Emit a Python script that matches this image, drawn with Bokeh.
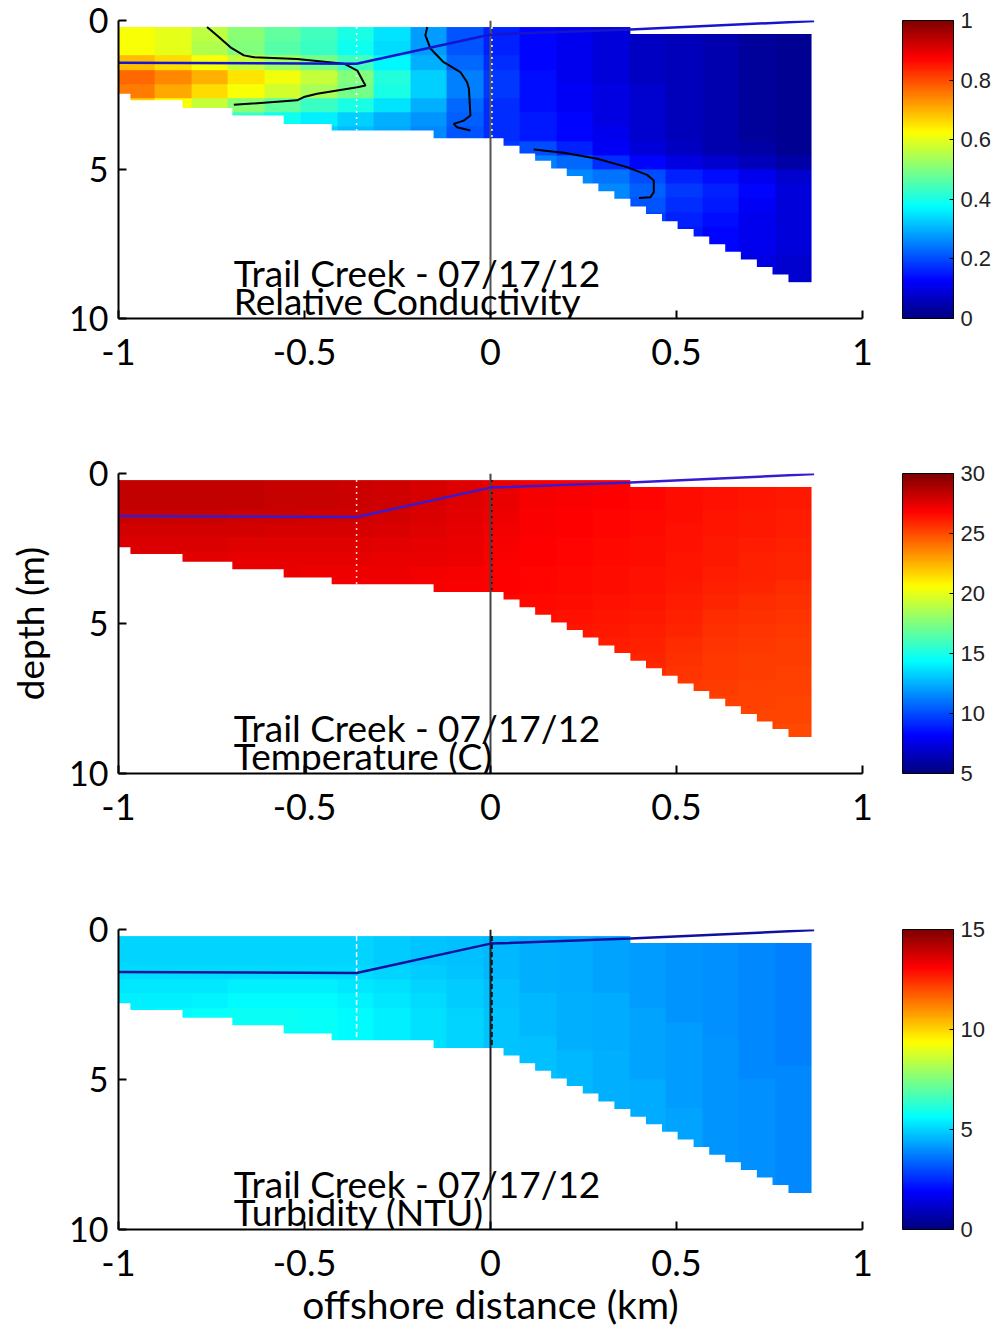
import numpy as np
from bokeh.plotting import figure
from bokeh.models import Range1d, LinearColorMapper, ColorBar, FixedTicker, Label
from bokeh.layouts import column
from bokeh.embed import file_html
from bokeh.resources import INLINE

# ---------------- data ----------------
x_ticks = [-1, -0.5, 0, 0.5, 1]
y_ticks = [0, 5, 10]

# grid of the section: 19 columns from -1 to 0.863 km, 18 rows from 0.22 to 8.8 m
grid_x0, grid_x1 = -1.0, 0.863
grid_z0, grid_z1 = 0.22, 8.8

# stair-step bottom of the data
bottom_edges = [-1.0, -0.968, -0.828, -0.694, -0.556, -0.427, -0.153, 0.0, 0.035,
                0.078, 0.12, 0.163, 0.205, 0.248, 0.29, 0.333, 0.376, 0.418, 0.461,
                0.503, 0.546, 0.588, 0.631, 0.673, 0.716, 0.758, 0.801, 0.863]
bottom_depth = [2.46, 2.68, 2.94, 3.19, 3.47, 3.69, 3.95, 3.95, 4.2, 4.46, 4.71, 4.97,
                5.22, 5.47, 5.73, 5.98, 6.24, 6.49, 6.74, 7.0, 7.25, 7.51, 7.76, 8.02,
                8.27, 8.52, 8.78]
# top of data: 0.22 m left of 0.376 km, 0.45 m right of it
top_gap_x = [0.376, 0.863]
top_gap_depth = [0.22, 0.45]

# blue interface line
blue_x = [-1.0, -0.36, 0.0, 0.376, 0.87]
blue_depth = [1.42, 1.45, 0.47, 0.30, 0.02]

# station markers
station_x = [-0.36, 0.004]
station_bottom = [3.69, 3.95]

# relative conductivity profiles (one list per column, top to bottom)
cond_profiles = [
    [0.62, 0.62, 0.69, 0.77, 0.75, 0.67],
    [0.60, 0.60, 0.66, 0.74, 0.71, 0.62],
    [0.56, 0.55, 0.62, 0.70, 0.66, 0.57],
    [0.51, 0.50, 0.57, 0.65, 0.62, 0.51, 0.43],
    [0.47, 0.46, 0.53, 0.61, 0.58, 0.47, 0.39],
    [0.44, 0.43, 0.49, 0.57, 0.54, 0.43, 0.36, 0.33],
    [0.40, 0.39, 0.44, 0.50, 0.49, 0.40, 0.33, 0.31],
    [0.35, 0.34, 0.37, 0.41, 0.40, 0.35, 0.30, 0.29],
    [0.28, 0.28, 0.30, 0.33, 0.33, 0.30, 0.27, 0.26],
    [0.21, 0.21, 0.23, 0.25, 0.25, 0.23, 0.22, 0.21],
    [0.16, 0.16, 0.17, 0.18, 0.18, 0.17, 0.17, 0.17, 0.18],
    [0.13, 0.13, 0.13, 0.14, 0.14, 0.14, 0.15, 0.15, 0.20, 0.25],
    [0.11, 0.11, 0.11, 0.11, 0.12, 0.12, 0.13, 0.13, 0.16, 0.23, 0.26, 0.26],
    [0.09, 0.09, 0.09, 0.09, 0.10, 0.10, 0.10, 0.11, 0.12, 0.17, 0.24, 0.26, 0.25],
    [0.07, 0.07, 0.07, 0.07, 0.08, 0.08, 0.08, 0.08, 0.09, 0.13, 0.20, 0.22, 0.21, 0.19],
    [0.06, 0.06, 0.06, 0.06, 0.06, 0.06, 0.06, 0.06, 0.07, 0.10, 0.16, 0.18, 0.17, 0.16, 0.15],
    [0.05, 0.05, 0.05, 0.05, 0.05, 0.05, 0.05, 0.05, 0.05, 0.08, 0.14, 0.16, 0.15, 0.14, 0.13, 0.13],
    [0.03, 0.03, 0.03, 0.03, 0.03, 0.03, 0.03, 0.03, 0.04, 0.06, 0.11, 0.13, 0.12, 0.11, 0.11, 0.11, 0.10, 0.10],
    [0.02, 0.02, 0.02, 0.02, 0.02, 0.02, 0.02, 0.02, 0.02, 0.04, 0.08, 0.09, 0.09, 0.09, 0.09, 0.09, 0.08, 0.08],
]

temp_profiles = [
    [28.3, 28.3, 28.2, 27.9, 27.7, 27.5],
    [28.3, 28.3, 28.2, 27.9, 27.7, 27.5],
    [28.3, 28.3, 28.2, 27.9, 27.7, 27.5],
    [28.3, 28.3, 28.1, 27.9, 27.6, 27.4, 27.3],
    [28.2, 28.2, 28.1, 27.8, 27.6, 27.4, 27.3],
    [28.2, 28.2, 28.0, 27.8, 27.6, 27.4, 27.2, 27.1],
    [28.1, 28.1, 28.0, 27.8, 27.6, 27.4, 27.2, 27.1],
    [28.0, 28.0, 27.9, 27.7, 27.5, 27.3, 27.2, 27.1],
    [27.8, 27.8, 27.7, 27.6, 27.4, 27.3, 27.1, 27.0],
    [27.6, 27.6, 27.5, 27.4, 27.3, 27.2, 27.0, 26.9],
    [27.3, 27.3, 27.2, 27.1, 27.0, 26.9, 26.8, 26.8, 26.7],
    [27.0, 27.0, 26.9, 26.9, 26.8, 26.8, 26.7, 26.7, 26.6, 26.5],
    [26.9, 26.9, 26.8, 26.8, 26.7, 26.7, 26.6, 26.6, 26.5, 26.4, 26.3, 26.2],
    [26.8, 26.8, 26.7, 26.7, 26.6, 26.6, 26.5, 26.5, 26.4, 26.3, 26.2, 26.1, 26.0],
    [26.7, 26.7, 26.6, 26.6, 26.5, 26.5, 26.4, 26.4, 26.3, 26.2, 26.1, 26.0, 25.9, 25.8],
    [26.5, 26.5, 26.5, 26.4, 26.4, 26.3, 26.3, 26.2, 26.1, 26.0, 25.9, 25.8, 25.7, 25.6, 25.5],
    [26.4, 26.4, 26.3, 26.3, 26.2, 26.2, 26.1, 26.0, 25.9, 25.8, 25.7, 25.6, 25.5, 25.5, 25.4, 25.3],
    [26.3, 26.3, 26.2, 26.2, 26.1, 26.0, 26.0, 25.9, 25.8, 25.7, 25.6, 25.5, 25.4, 25.4, 25.3, 25.3, 25.2, 25.2],
    [26.2, 26.2, 26.1, 26.1, 26.0, 25.9, 25.9, 25.8, 25.7, 25.6, 25.5, 25.4, 25.4, 25.3, 25.3, 25.2, 25.2, 25.1],
]

turb_profiles = [
    [5.0, 5.0, 5.1, 5.3, 5.4, 5.5],
    [5.0, 5.0, 5.1, 5.3, 5.4, 5.6],
    [5.0, 5.0, 5.1, 5.3, 5.5, 5.7],
    [5.0, 5.0, 5.1, 5.4, 5.6, 5.8, 5.8],
    [5.0, 5.0, 5.1, 5.4, 5.6, 5.8, 5.8],
    [5.0, 5.0, 5.1, 5.4, 5.6, 5.7, 5.7, 5.7],
    [5.0, 5.0, 5.1, 5.3, 5.5, 5.6, 5.6, 5.6],
    [4.9, 4.9, 5.0, 5.2, 5.3, 5.4, 5.4, 5.4],
    [4.8, 4.8, 4.9, 5.0, 5.1, 5.2, 5.2, 5.2],
    [4.7, 4.7, 4.8, 4.9, 4.9, 5.0, 5.0, 5.0],
    [4.6, 4.6, 4.6, 4.7, 4.7, 4.8, 4.8, 4.8, 4.8],
    [4.5, 4.5, 4.5, 4.5, 4.6, 4.6, 4.6, 4.7, 4.7, 4.7],
    [4.4, 4.4, 4.4, 4.4, 4.5, 4.5, 4.5, 4.5, 4.6, 4.6, 4.6, 4.6],
    [4.3, 4.3, 4.3, 4.3, 4.4, 4.4, 4.4, 4.4, 4.5, 4.5, 4.5, 4.5, 4.5],
    [4.2, 4.2, 4.2, 4.2, 4.2, 4.3, 4.3, 4.3, 4.3, 4.3, 4.4, 4.4, 4.4, 4.4],
    [4.1, 4.1, 4.1, 4.1, 4.1, 4.1, 4.2, 4.2, 4.2, 4.2, 4.2, 4.2, 4.3, 4.3, 4.3],
    [4.0, 4.0, 4.0, 4.0, 4.0, 4.0, 4.0, 4.1, 4.1, 4.1, 4.1, 4.1, 4.1, 4.1, 4.1, 4.1],
    [3.9, 3.9, 3.9, 3.9, 3.9, 3.9, 3.9, 3.9, 3.9, 3.9, 4.0, 4.0, 4.0, 4.0, 4.0, 4.0, 4.0, 4.0],
    [3.8, 3.8, 3.8, 3.8, 3.8, 3.8, 3.8, 3.8, 3.8, 3.9, 3.9, 3.9, 3.9, 3.9, 3.9, 3.9, 3.9, 3.9],
]

# contour lines of relative conductivity
contour_a_x = [-0.762, -0.735, -0.699, -0.663, -0.636, -0.520, -0.394, -0.358, -0.341, -0.336, -0.358, -0.466, -0.502, -0.520, -0.690]
contour_a_z = [0.22, 0.50, 0.90, 1.17, 1.23, 1.29, 1.45, 1.68, 2.07, 2.18, 2.24, 2.46, 2.57, 2.68, 2.83]
contour_b_x = [-0.170, -0.175, -0.161, -0.126, -0.081, -0.063, -0.058, -0.054, -0.072, -0.099, -0.090, -0.054]
contour_b_z = [0.22, 0.50, 0.95, 1.40, 1.73, 2.07, 2.29, 3.19, 3.36, 3.47, 3.58, 3.69]
contour_c_x = [0.116, 0.197, 0.287, 0.367, 0.421, 0.439, 0.439, 0.430, 0.399]
contour_c_z = [4.33, 4.44, 4.64, 4.92, 5.18, 5.37, 5.76, 5.93, 5.96]

title_line = "Trail Creek - 07/17/12"
var_names = ["Relative Conductivity", "Temperature (C)", "Turbidity (NTU)"]
cbar_ranges = [(0, 1), (5, 30), (0, 15)]
cbar_ticks = [[0, 0.2, 0.4, 0.6, 0.8, 1], [5, 10, 15, 20, 25, 30], [0, 5, 10, 15]]
cbar_labels = [["0", "0.2", "0.4", "0.6", "0.8", "1"],
               ["5", "10", "15", "20", "25", "30"],
               ["0", "5", "10", "15"]]

# ---------------- styling helpers ----------------
def jet_palette(n=256):
    cols = []
    for i in range(n):
        t = i / (n - 1)
        r = min(max(1.5 - abs(4 * t - 3), 0), 1)
        g = min(max(1.5 - abs(4 * t - 2), 0), 1)
        b = min(max(1.5 - abs(4 * t - 1), 0), 1)
        cols.append("#%02x%02x%02x" % (int(r * 255), int(g * 255), int(b * 255)))
    return cols

JET = jet_palette()
N_ROWS = 18
TEXT_SHIFT = 0.5   # compensates the renderer's baseline offset (in metres)


def build_grid(profiles):
    arr = np.full((N_ROWS, len(profiles)), np.nan)
    for j, prof in enumerate(profiles):
        arr[:len(prof), j] = prof
    return arr


def stair_patch():
    xs, ys = [], []
    for i, d in enumerate(bottom_depth):
        xs += [bottom_edges[i], bottom_edges[i + 1]]
        ys += [d, d]
    xs += [bottom_edges[-1] + 0.2, bottom_edges[-1] + 0.2, -1.2, -1.2]
    ys += [bottom_depth[-1], 10.5, 10.5, bottom_depth[0]]
    return xs, ys


def make_panel(k, profiles, height, border_bottom, dot_colors, dot_dash,
               zero_color, blue_color, ylabel=None, xlabel=None, contours=False):
    p = figure(width=1006, height=height, x_range=Range1d(-1, 1), y_range=Range1d(10, 0),
               output_backend="svg", toolbar_location=None,
               min_border_left=118, min_border_right=144, min_border_top=20,
               min_border_bottom=border_bottom)
    p.outline_line_color = None
    p.xgrid.visible = False
    p.ygrid.visible = False
    p.background_fill_color = "white"

    low, high = cbar_ranges[k]
    mapper = LinearColorMapper(palette=JET, low=low, high=high, nan_color=(0, 0, 0, 0.0))
    p.image(image=[build_grid(profiles)], x=grid_x0, y=grid_z0,
            dw=grid_x1 - grid_x0, dh=grid_z1 - grid_z0, color_mapper=mapper)

    sx, sy = stair_patch()
    p.patch(sx, sy, fill_color="white", line_color=None)
    p.quad(left=[top_gap_x[0]], right=[top_gap_x[1] + 0.2], top=[top_gap_depth[0] - 0.3],
           bottom=[top_gap_depth[1]], fill_color="white", line_color=None)
    p.quad(left=[-1.2], right=[1.2], top=[-0.5], bottom=[grid_z0],
           fill_color="white", line_color=None)

    p.line([0, 0], [0, 10], line_color=zero_color, line_width=2)
    for sx_, sb, c in zip(station_x, station_bottom, dot_colors):
        p.line([sx_, sx_], [grid_z0, sb], line_color=c, line_width=1.5, line_dash=dot_dash)

    if contours:
        for cx, cz in [(contour_a_x, contour_a_z), (contour_b_x, contour_b_z),
                       (contour_c_x, contour_c_z)]:
            p.line(cx, cz, line_color="black", line_width=2)

    p.line(blue_x, blue_depth, line_color=blue_color, line_width=2.5)

    for txt, yy in [(title_line, 8.96), (var_names[k], 9.9)]:
        p.add_layout(Label(x=-0.69, y=yy - TEXT_SHIFT, x_units="data", y_units="data",
                           text=txt, text_font="Lato", text_font_size="37px",
                           text_color="black", text_baseline="alphabetic",
                           text_align="left"))

    for ax in (p.xaxis[0], p.yaxis[0]):
        ax.axis_line_color = "black"
        ax.axis_line_width = 2
        ax.major_tick_in = 8
        ax.major_tick_out = 0
        ax.major_tick_line_color = "black"
        ax.major_tick_line_width = 2
        ax.minor_tick_line_color = None
        ax.major_label_text_font = "Lato"
        ax.major_label_text_font_size = "36px"
        ax.major_label_text_color = "black"
        ax.axis_label_text_font = "Lato"
        ax.axis_label_text_font_size = "37px"
        ax.axis_label_text_font_style = "normal"
        ax.axis_label_text_color = "black"
    p.xaxis.ticker = FixedTicker(ticks=x_ticks)
    p.xaxis.major_label_overrides = {-1: "-1", -0.5: "-0.5", 0: "0", 0.5: "0.5", 1: "1"}
    p.xaxis.major_label_standoff = 20
    p.yaxis.ticker = FixedTicker(ticks=y_ticks)
    p.yaxis.major_label_overrides = {0: "0", 5: "5", 10: "10"}
    p.yaxis.major_label_standoff = 10
    p.yaxis.major_label_text_font_size = "34px"
    if ylabel:
        p.yaxis.axis_label = ylabel
        p.yaxis.axis_label_standoff = 14
    if xlabel:
        p.xaxis.axis_label = xlabel
        p.xaxis.axis_label_text_font_size = "39px"
        p.xaxis.axis_label_standoff = 2

    cb = ColorBar(color_mapper=mapper, ticker=FixedTicker(ticks=cbar_ticks[k]),
                  major_label_overrides=dict(zip(cbar_ticks[k], cbar_labels[k])),
                  width=51, padding=0, margin=0, location=(40, 0),
                  bar_line_color="black", bar_line_width=1,
                  major_tick_line_color="black", major_tick_in=4, major_tick_out=0,
                  minor_tick_line_color=None, label_standoff=7,
                  major_label_text_font="Liberation Sans",
                  major_label_text_font_size="22px", major_label_text_color="#222222",
                  background_fill_color=None)
    p.add_layout(cb, "right")
    return p


p1 = make_panel(0, cond_profiles, 453, 135, ["white", "white"], "2 4", "#555555",
                "#1515d0", contours=True)
p2 = make_panel(1, temp_profiles, 456, 136, ["#ffd0d0", "#400000"], "2 4", "#444444",
                "#3a1ad0", ylabel="depth (m)")
p3 = make_panel(2, turb_profiles, 422, 102, ["white", "black"], "5 3", "#222222",
                "#1010a0", xlabel="offshore distance (km)")

layout = column(p1, p2, p3, spacing=0)
open("out.html", "w").write(file_html(layout, INLINE))
